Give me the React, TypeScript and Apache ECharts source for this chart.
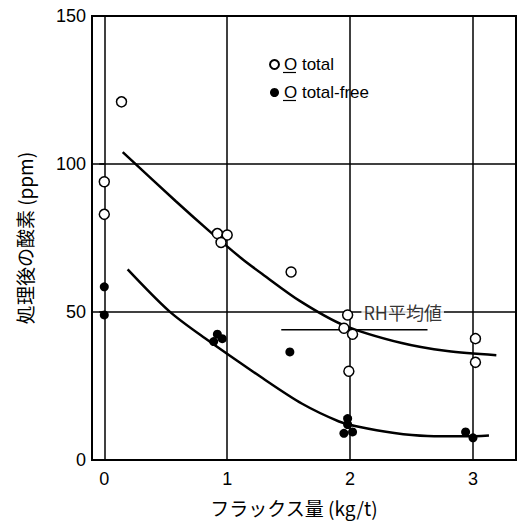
import React, { useEffect, useRef } from "react";
import * as echarts from "echarts";

// ---- data ----
const xTickValues = [0, 1, 2, 3];
const yTickValues = [0, 50, 100, 150];

// open circles: O total
const totalPoints: [number, number][] = [
  [0.0, 94], [0.0, 83], [0.14, 121],
  [0.92, 76.5], [1.0, 76], [0.95, 73.5],
  [1.52, 63.5],
  [1.98, 49], [1.95, 44.5], [2.02, 42.5], [1.99, 30],
  [3.02, 41], [3.02, 33],
];

// filled dots: O total-free
const freePoints: [number, number][] = [
  [0.0, 58.5], [0.0, 49],
  [0.92, 42.5], [0.96, 41], [0.89, 40],
  [1.51, 36.5],
  [1.98, 14], [1.98, 12], [1.95, 9], [2.02, 9.5],
  [2.94, 9.5], [3.0, 7.5],
];

// hand-drawn trend curves
const upperCurve: [number, number][] = [
  [0.15, 104], [0.58, 87.5], [0.85, 77.5], [1.12, 68], [1.29, 62.7],
  [1.6, 53.5], [1.95, 45.5], [2.42, 39.5], [2.79, 36.8], [3.19, 35.4],
];
const lowerCurve: [number, number][] = [
  [0.19, 64.4], [0.53, 50.2], [0.82, 41.1], [1.29, 27.6], [1.61, 19],
  [1.91, 13], [2.04, 11.5], [2.36, 9.1], [2.63, 8.1], [2.94, 8.0], [3.13, 8.3],
];

// RH average line
const rhLine: [number, number][] = [[1.44, 44], [2.63, 44]];
const rhLabelPos: [number, number][] = [[2.08, 50]];
const rhLabel = "RH平均値";

const legendNames = ["O total", "O total-free"];
const xName = "フラックス量 (kg/t)";
const yName = "処理後の酸素 (ppm)";

const LATIN = "'Liberation Sans', Arial, sans-serif";
const CJK = "'Noto Sans CJK JP', 'Liberation Sans', sans-serif";

export default function App() {
  const ref = useRef<HTMLDivElement>(null);

  useEffect(() => {
    document.body.style.margin = "0";
    if (!ref.current) return;
    const chart = echarts.init(ref.current, null, { renderer: "svg" });

    const option: any = {
      animation: false,
      backgroundColor: "#fff",
      textStyle: { fontFamily: LATIN, color: "#000" },
      grid: {
        left: 92,
        right: 5,
        top: 16,
        bottom: 65,
        show: true,
        borderColor: "#000",
        borderWidth: 2,
        backgroundColor: "transparent",
      },
      legend: {
        data: legendNames,
        orient: "vertical",
        left: 269,
        top: 56,
        padding: 0,
        itemWidth: 9,
        itemHeight: 9,
        itemGap: 11,
        textStyle: { fontSize: 17, fontFamily: LATIN, color: "#000" },
      },
      xAxis: {
        type: "value",
        min: -0.1,
        max: 3.35,
        interval: 0.1,
        axisLine: { show: false },
        axisTick: { show: false },
        splitLine: { show: false },
        axisLabel: {
          fontSize: 18,
          color: "#000",
          margin: 10,
          fontFamily: LATIN,
          formatter: (v: number) => {
            const r = Math.round(v * 10) / 10;
            const hit = xTickValues.find((t) => Math.abs(t - r) < 1e-6);
            return hit === undefined ? "" : String(hit);
          },
        },
        name: xName,
        nameLocation: "middle",
        nameGap: 38,
        nameTextStyle: { fontSize: 19, fontFamily: CJK, color: "#000", padding: [0, 20, 0, 0] },
      },
      yAxis: {
        type: "value",
        min: yTickValues[0],
        max: yTickValues[yTickValues.length - 1],
        interval: 50,
        axisLine: { show: false },
        axisTick: { show: true, length: 5, lineStyle: { color: "#000", width: 1.5 } },
        splitLine: { show: true, lineStyle: { color: "#000", width: 1.5 } },
        axisLabel: { fontSize: 18, color: "#000", margin: 6, fontFamily: LATIN },
        name: yName,
        nameLocation: "middle",
        nameGap: 58,
        nameTextStyle: { fontSize: 19, fontFamily: CJK, color: "#000" },
      },
      graphic: [
        { type: "line", shape: { x1: 283, y1: 72.5, x2: 296, y2: 72.5 }, style: { stroke: "#000", lineWidth: 1.2 } },
        { type: "line", shape: { x1: 283, y1: 100.5, x2: 296, y2: 100.5 }, style: { stroke: "#000", lineWidth: 1.2 } },
      ],
      series: [
        {
          name: "grid",
          type: "line",
          data: [],
          silent: true,
          markLine: {
            silent: true,
            symbol: "none",
            label: { show: false },
            lineStyle: { color: "#000", width: 1.5, type: "solid" },
            data: xTickValues.map((v) => ({ xAxis: v })),
          },
        },
        {
          name: "upper",
          type: "line",
          data: upperCurve,
          smooth: 0.3,
          showSymbol: false,
          lineStyle: { color: "#000", width: 2.5 },
          z: 3,
        },
        {
          name: "lower",
          type: "line",
          data: lowerCurve,
          smooth: 0.3,
          showSymbol: false,
          lineStyle: { color: "#000", width: 2.5 },
          z: 3,
        },
        {
          name: "rh",
          type: "line",
          data: rhLine,
          showSymbol: false,
          lineStyle: { color: "#000", width: 1.5 },
          z: 3,
        },
        {
          name: legendNames[0],
          type: "scatter",
          data: totalPoints,
          symbol: "circle",
          symbolSize: 10,
          itemStyle: { color: "#fff", borderColor: "#000", borderWidth: 1.5, opacity: 1 },
          z: 5,
        },
        {
          name: legendNames[1],
          type: "scatter",
          data: freePoints,
          symbol: "circle",
          symbolSize: 9,
          itemStyle: { color: "#000", opacity: 1 },
          z: 5,
        },
        {
          name: "rhLabel",
          type: "scatter",
          data: rhLabelPos,
          symbolSize: 1,
          itemStyle: { color: "transparent" },
          label: {
            show: true,
            position: "right",
            distance: 1,
            formatter: rhLabel,
            fontSize: 18,
            fontFamily: CJK,
            color: "#000",
            backgroundColor: "#fff",
            padding: [0, 2, 0, 2],
          },
          z: 4,
        },
      ],
    };

    chart.setOption(option);
    return () => chart.dispose();
  }, []);

  return <div ref={ref} style={{ width: 521, height: 525 }} />;
}
